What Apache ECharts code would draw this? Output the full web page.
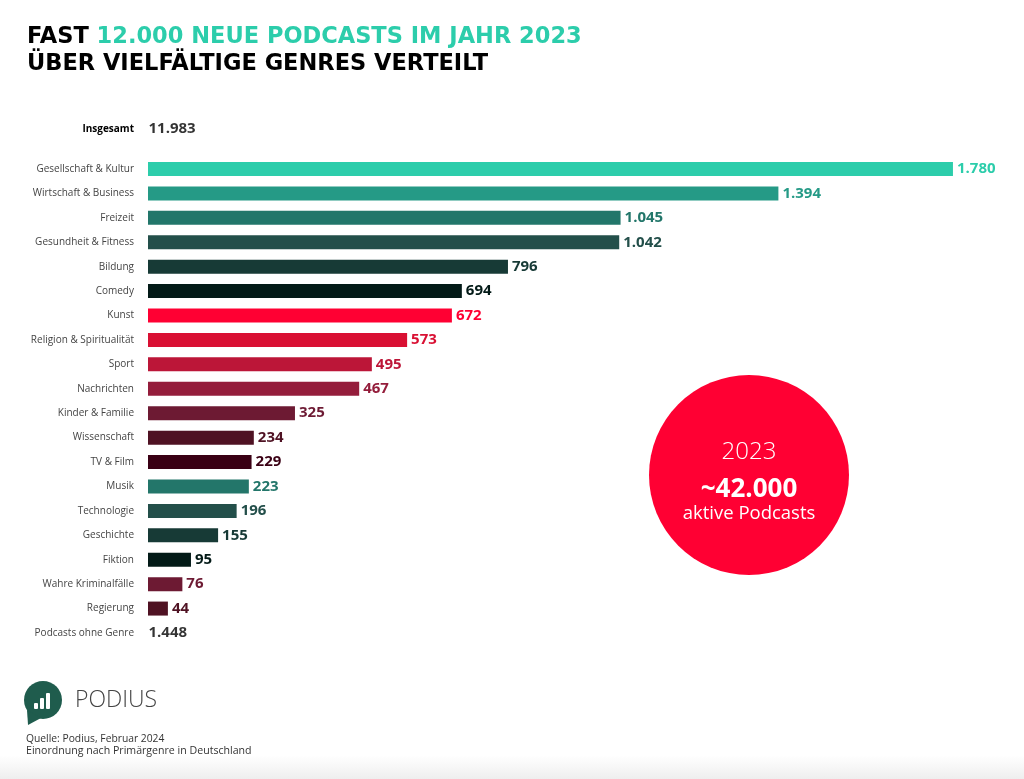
<!DOCTYPE html>
<html>
<head>
<meta charset="utf-8">
<script src="https://cdn.jsdelivr.net/npm/echarts@6/dist/echarts.min.js"></script>
<style>html,body{margin:0;padding:0;background:#fff}#c{width:1024px;height:779px}</style>
</head>
<body>
<div id="c"></div>
<script>
const genres = ['Gesellschaft & Kultur','Wirtschaft & Business','Freizeit','Gesundheit & Fitness','Bildung','Comedy','Kunst','Religion & Spiritualität','Sport','Nachrichten','Kinder & Familie','Wissenschaft','TV & Film','Musik','Technologie','Geschichte','Fiktion','Wahre Kriminalfälle','Regierung'];
const counts = [1780,1394,1045,1042,796,694,672,573,495,467,325,234,229,223,196,155,95,76,44];
const barColors = ['#2ccdab','#259a86','#22766a','#234f4a','#173a36','#031a17','#ff0033','#d91033','#bc1638','#941d3b','#6d1a33','#4f1223','#3a0014','#23766a','#234f4a','#173a36','#031a17','#6d1a33','#4f1223'];
const totalLabel = 'Insgesamt';
const totalValue = 11983;
const noGenreLabel = 'Podcasts ohne Genre';
const noGenreValue = 1448;

const fmt = v => v.toLocaleString('de-DE');
const cats = genres.concat([noGenreLabel]);
const F = '"Open Sans", sans-serif';
const TF = '"DejaVu Sans", sans-serif';

const chart = echarts.init(document.getElementById('c'), null, {renderer:'canvas'});
chart.setOption({
  backgroundColor: '#fff',
  animation: false,
  grid: [
    {left:148, right:62, top:156.8, height:488.4},
    {left:148, right:62, top:117, height:24}
  ],
  xAxis: [
    {gridIndex:0, type:'value', min:0, max:1800, show:false},
    {gridIndex:1, type:'value', min:0, max:1800, show:false}
  ],
  yAxis: [
    {gridIndex:0, type:'category', inverse:true, data:cats,
     axisLine:{show:false}, axisTick:{show:false},
     axisLabel:{margin:14, fontFamily:F, fontSize:10, color:'#444'}},
    {gridIndex:1, type:'category', data:[totalLabel],
     axisLine:{show:false}, axisTick:{show:false},
     axisLabel:{margin:14, fontFamily:F, fontSize:10, fontWeight:'bold', color:'#000'}}
  ],
  series: [
    {type:'bar', xAxisIndex:0, yAxisIndex:0, barWidth:14,
     data: counts.map((v,i)=>({value:v, itemStyle:{color:barColors[i]},
       label:{color:barColors[i]}})),
     label:{show:true, position:'right', distance:4, fontFamily:F, fontWeight:'bold', fontSize:15,
       formatter:p=>fmt(p.value)}},
    {type:'scatter', xAxisIndex:0, yAxisIndex:0, symbolSize:1, itemStyle:{color:'rgba(0,0,0,0)'},
     data:[[0, noGenreLabel]],
     label:{show:true, position:'right', distance:0, fontFamily:F, fontWeight:'bold', fontSize:15, color:'#000',
       formatter:()=>fmt(noGenreValue)}},
    {type:'scatter', xAxisIndex:1, yAxisIndex:1, symbolSize:1, itemStyle:{color:'rgba(0,0,0,0)'},
     data:[[0, totalLabel]],
     label:{show:true, position:'right', distance:0, fontFamily:F, fontWeight:'bold', fontSize:15, color:'#000',
       formatter:()=>fmt(totalValue)}}
  ],
  graphic: [
    {type:'rect', shape:{x:0,y:755,width:1024,height:24},
     style:{fill:new echarts.graphic.LinearGradient(0,0,0,1,[{offset:0,color:'rgba(240,240,240,0)'},{offset:1,color:'#eeeeee'}])}, silent:true},
    {type:'text', left:27, top:26, style:{
      text:'{b|FAST }{g|12.000 NEUE PODCASTS IM JAHR 2023}',
      rich:{b:{fontFamily:TF, fontWeight:'bold', fontSize:22.5, fill:'#000'},
            g:{fontFamily:TF, fontWeight:'bold', fontSize:22.5, fill:'#2ccdab'}}}},
    {type:'text', left:27, top:53, style:{
      text:'ÜBER VIELFÄLTIGE GENRES VERTEILT', fontFamily:TF, fontWeight:'bold', fontSize:22.5, fill:'#000'}},
    {type:'circle', shape:{cx:749, cy:475, r:100}, style:{fill:'#ff0033'}},
    {type:'text', x:749, y:452, style:{text:'2023', fontFamily:F, fontWeight:300, fontSize:24, fill:'#fff', align:'center', verticalAlign:'middle'}},
    {type:'text', x:749, y:490, style:{text:'~42.000', fontFamily:F, fontWeight:'bold', fontSize:26, fill:'#fff', align:'center', verticalAlign:'middle'}},
    {type:'text', x:749, y:514, style:{text:'aktive Podcasts', fontFamily:F, fontSize:18.5, fill:'#fff', align:'center', verticalAlign:'middle'}},
    {type:'circle', shape:{cx:43, cy:700, r:19}, style:{fill:'#1f5c4d'}},
    {type:'polygon', shape:{points:[[27,710],[28,725],[41,718]]}, style:{fill:'#1f5c4d'}},
    {type:'rect', shape:{x:34,y:703,width:4,height:6,r:1}, style:{fill:'#fff'}},
    {type:'rect', shape:{x:40,y:698,width:4,height:11,r:1}, style:{fill:'#fff'}},
    {type:'rect', shape:{x:46,y:693,width:4,height:16,r:1}, style:{fill:'#fff'}},
    {type:'text', x:75, y:700, style:{text:'PODIUS', fontFamily:F, fontWeight:300, fontSize:23, fill:'#444', verticalAlign:'middle'}},
    {type:'text', x:26, y:739, style:{text:'Quelle: Podius, Februar 2024', fontFamily:F, fontSize:10.3, fill:'#333', verticalAlign:'middle'}},
    {type:'text', x:26, y:751, style:{text:'Einordnung nach Primärgenre in Deutschland', fontFamily:F, fontSize:10.6, fill:'#333', verticalAlign:'middle'}}
  ]
});
</script>
</body>
</html>
